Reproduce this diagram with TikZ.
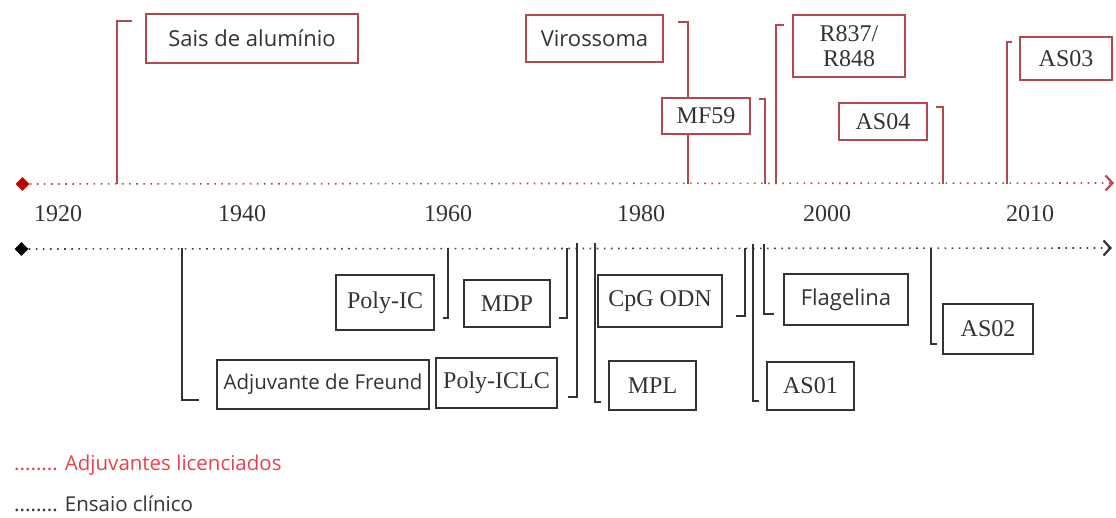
\documentclass[tikz,border=0pt]{standalone}
\usepackage{fontspec}
\setmainfont{Liberation Serif}
\newfontfamily\opensans{Open Sans}
\usetikzlibrary{shapes.geometric,arrows.meta}
\definecolor{boxred}{HTML}{B5474F}
\definecolor{axisred}{HTML}{C0424B}
\definecolor{dotred}{HTML}{C00000}
\definecolor{legred}{HTML}{E8404E}
\definecolor{ink}{HTML}{333333}
\begin{document}
\begin{tikzpicture}[x=1pt,y=-1pt,
    redbox/.style={draw=boxred,line width=1.6pt,fill=white,inner sep=0pt,text=ink},
    blackbox/.style={draw=ink,line width=1.6pt,fill=white,inner sep=0pt,text=ink},
    serif/.style={font=\fontsize{24}{25}\selectfont},
    sans/.style={font=\opensans\fontsize{22}{24}\selectfont},
    redlink/.style={draw=boxred,line width=1.5pt},
    blacklink/.style={draw=ink,line width=1.5pt},
    timeline/.style={line width=1.6pt,dash pattern=on 1.6pt off 5.5pt},
    tip/.style={line width=2.2pt,-{Straight Barb[length=7pt,width=15pt]}},
    start/.style={diamond,inner sep=0pt,minimum width=14pt,minimum height=14pt},
    year/.style={serif,text=ink,inner sep=0pt},
    legend/.style={anchor=west,inner sep=0pt,font=\opensans\fontsize{20.5}{22}\selectfont}]
                  \useasboundingbox (0,0) rectangle (1116,518);
                  \node [start,fill=dotred] (rstart) at (22.5,184) {};
                  \coordinate (rend) at (1114,183);
                  \draw [timeline,axisred] (rstart) -- (rend);
                  \draw [tip,axisred] ([xshift=-3pt]rend) -- (rend);
                  \node [start,fill=black] (bstart) at (21.5,249) {};
                  \coordinate (bend) at (1112,248);
                  \draw [timeline,black!75] (bstart) -- (bend);
                  \draw [tip,black!80] ([xshift=-3pt]bend) -- (bend);
                  \node [year] (y1920) at (58,214) {1920};
                  \node [year] (y1940) at (242,214) {1940};
                  \node [year] (y1960) at (448,214) {1960};
                  \node [year] (y1980) at (641,214) {1980};
                  \node [year] (y2000) at (827,214) {2000};
                  \node [year] (y2010) at (1030,214) {2010};
                  \node [redbox,sans,minimum width=212pt,minimum height=49pt] (sais) at (252,38.5) {Sais de alumínio};
                  \node [redbox,sans,minimum width=137pt,minimum height=47pt] (viro) at (594.5,38.5) {Virossoma};
                  \node [redbox,serif,minimum width=88pt,minimum height=36pt] (mf59) at (706,116) {MF59};
                  \node [redbox,serif,minimum width=112pt,minimum height=62pt,align=center] (r837) at (849,46) {R837/\\R848};
                  \node [redbox,serif,minimum width=88pt,minimum height=37pt] (as04) at (883,121.5) {AS04};
                  \node [redbox,serif,minimum width=92pt,minimum height=43pt] (as03) at (1066,58.5) {AS03};
                  \coordinate (tal) at (117,184);
                  \coordinate (tviro) at (688,184);
                  \coordinate (tmf) at (765,184);
                  \coordinate (tr) at (776,184);
                  \coordinate (tas4) at (943,184);
                  \coordinate (tas3) at (1007,184);
                  \draw [redlink] (tal) |- ([xshift=-13pt,yshift=-8pt]sais.north west);
                  \draw [redlink] (tviro) -- (tviro |- mf59.south);
                  \draw [redlink] (tviro |- mf59.north) |- ([xshift=14pt,yshift=-8pt]viro.north east);
                  \draw [redlink] (tmf) |- ([xshift=8pt,yshift=-2pt]mf59.north east);
                  \draw [redlink] (tr) |- ([xshift=-8pt,yshift=-11pt]r837.north west);
                  \draw [redlink] (tas4) |- ([xshift=8pt,yshift=-5pt]as04.north east);
                  \draw [redlink] (tas3) |- ([xshift=-7pt,yshift=-6pt]as03.north west);
                  \node [blackbox,sans,font=\opensans\fontsize{20.5}{22}\selectfont,minimum width=212pt,minimum height=49pt] (freund) at (323,384.5) {Adjuvante de Freund};
                  \node [blackbox,serif,minimum width=98pt,minimum height=55pt] (polyic) at (385,302.5) {Poly-IC};
                  \node [blackbox,serif,minimum width=86pt,minimum height=47pt] (mdp) at (507,303.5) {MDP};
                  \node [blackbox,serif,minimum width=121pt,minimum height=50pt] (polyiclc) at (496.5,383) {Poly-ICLC};
                  \node [blackbox,serif,minimum width=124pt,minimum height=52pt] (cpg) at (660,301) {CpG ODN};
                  \node [blackbox,serif,minimum width=87pt,minimum height=49pt] (mpl) at (652.5,385.5) {MPL};
                  \node [blackbox,sans,minimum width=124pt,minimum height=51pt] (flag) at (846,299.5) {Flagelina};
                  \node [blackbox,serif,minimum width=87pt,minimum height=48pt] (as01) at (810.5,386) {AS01};
                  \node [blackbox,serif,minimum width=90pt,minimum height=50pt] (as02) at (988,329) {AS02};
                  \coordinate (bfr) at (182,248);
                  \coordinate (bpic) at (448,248);
                  \coordinate (bmdp) at (567,248);
                  \coordinate (bpiclc) at (577,243);
                  \coordinate (bmpl) at (595,243);
                  \coordinate (bcpg) at (745,248);
                  \coordinate (bas1) at (753,244);
                  \coordinate (bflag) at (764,244);
                  \coordinate (bas2) at (931,248);
                  \draw [blacklink] (bfr) |- ([xshift=-17pt,yshift=10pt]freund.south west);
                  \draw [blacklink] (bpic) |- ([xshift=8pt,yshift=13pt]polyic.south east);
                  \draw [blacklink] (bmdp) |- ([xshift=8pt,yshift=10pt]mdp.south east);
                  \draw [blacklink] (bpiclc) |- ([xshift=10pt,yshift=12pt]polyiclc.south east);
                  \draw [blacklink] (bmpl) |- ([xshift=-7pt,yshift=9pt]mpl.south west);
                  \draw [blacklink] (bcpg) |- ([xshift=13pt,yshift=12pt]cpg.south east);
                  \draw [blacklink] (bas1) |- ([xshift=-7pt,yshift=10pt]as01.south west);
                  \draw [blacklink] (bflag) |- ([xshift=-9pt,yshift=12pt]flag.south west);
                  \draw [blacklink] (bas2) |- ([xshift=-5pt,yshift=11pt]as02.south west);
                  \node [legend,text=legred] (leglic) at (14,465) {........ Adjuvantes licenciados};
                  \node [legend,text=ink] (legens) at (14,504) {........ Ensaio clínico};
\end{tikzpicture}
\end{document}
